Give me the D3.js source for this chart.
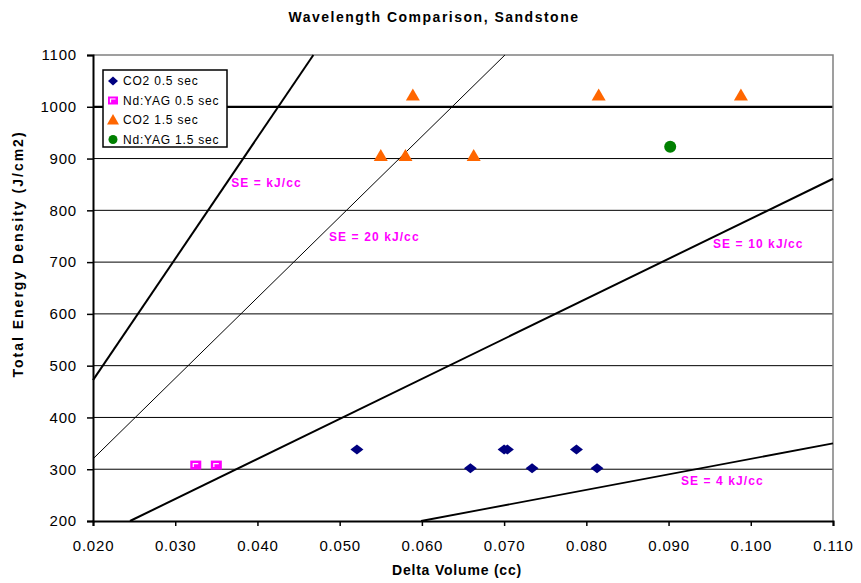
<!DOCTYPE html>
<html>
<head>
<meta charset="utf-8">
<script src="https://cdn.jsdelivr.net/npm/d3@7"></script>
<style>
  body { margin: 0; background: #fff; }
  text { font-family: Arial, "Liberation Sans", sans-serif; }
</style>
</head>
<body>
<svg id="chart" width="861" height="583"></svg>
<script>
// data
var co2_05 = [[0.0521, 338], [0.0700, 338], [0.0704, 338], [0.0788, 338],
              [0.0659, 302], [0.0734, 302], [0.0813, 302]];
var ndyag_05 = [[0.0325, 308], [0.0350, 308]];
var co2_15 = [[0.0589, 1022], [0.0815, 1022], [0.0988, 1022],
              [0.0550, 905], [0.0580, 905], [0.0663, 905]];
var ndyag_15 = [[0.0902, 923]];

// SE reference lines (endpoints)
var seLines = [
    {pts: [[0.020, 472], [0.0468, 1100]], w: 2},
    {pts: [[0.020, 320], [0.0701, 1100]], w: 1},
    {pts: [[0.0245, 200], [0.110, 861]], w: 2},
    {pts: [[0.0599, 200], [0.110, 350]], w: 1.8}
];
var seLabels = [
    {text: "SE = kJ/cc", x: 0.0368, y: 845},
    {text: "SE = 20 kJ/cc", x: 0.0487, y: 741},
    {text: "SE = 10 kJ/cc", x: 0.0954, y: 727},
    {text: "SE = 4 kJ/cc", x: 0.0915, y: 270}
];

var xTicks = [0.02, 0.03, 0.04, 0.05, 0.06, 0.07, 0.08, 0.09, 0.10, 0.11];
var yTicks = [200, 300, 400, 500, 600, 700, 800, 900, 1000, 1100];

var margin = {left: 93, right: 28, top: 55, bottom: 62};
var svg = d3.select("#chart");
var W = 861, H = 583;

var x = d3.scaleLinear().domain([0.02, 0.11]).range([margin.left, W - margin.right]);
var y = d3.scaleLinear().domain([200, 1100]).range([H - margin.bottom, margin.top]);

// title
svg.append("text")
    .attr("x", 434).attr("y", 22)
    .attr("text-anchor", "middle")
    .style("font-size", "14px").style("font-weight", "bold")
    .style("letter-spacing", "1.5px")
    .text("Wavelength Comparison, Sandstone");

// gridlines
svg.append("g").selectAll("line")
    .data(yTicks.filter(function (d) { return d > 200 && d < 1100; }))
    .enter().append("line")
    .attr("x1", x(0.02)).attr("x2", x(0.11))
    .attr("y1", function (d) { return y(d); })
    .attr("y2", function (d) { return y(d); })
    .attr("stroke", "#000")
    .attr("stroke-width", function (d) { return d === 1000 ? 2.2 : 1; });

// grey frame top/right
svg.append("path")
    .attr("d", "M" + x(0.02) + "," + y(1100) + "H" + x(0.11) + "V" + y(200))
    .attr("fill", "none").attr("stroke", "#808080").attr("stroke-width", 1.5);

// SE lines
var lineGen = d3.line().x(function (d) { return x(d[0]); }).y(function (d) { return y(d[1]); });
svg.append("g").selectAll("path")
    .data(seLines).enter().append("path")
    .attr("d", function (d) { return lineGen(d.pts); })
    .attr("fill", "none").attr("stroke", "#000")
    .attr("stroke-width", function (d) { return d.w; });

// axes
var yAxis = svg.append("g")
    .attr("transform", "translate(" + x(0.02) + ",0)")
    .call(d3.axisLeft(y).tickValues(yTicks).tickSize(6).tickPadding(10).tickFormat(d3.format("d")));
var xAxis = svg.append("g")
    .attr("transform", "translate(0," + y(200) + ")")
    .call(d3.axisBottom(x).tickValues(xTicks).tickSize(5).tickPadding(14).tickFormat(d3.format(".3f")));
[yAxis, xAxis].forEach(function (a) {
    a.select(".domain").attr("stroke", "#000").attr("stroke-width", 2);
    a.selectAll(".tick line").attr("stroke", "#000").attr("stroke-width", 1.5);
    a.selectAll(".tick text").style("font-size", "15px").attr("fill", "#000")
        .style("letter-spacing", "0.8px")
        .style("font-family", "Arial, 'Liberation Sans', sans-serif");
});

// axis titles
svg.append("text")
    .attr("transform", "translate(23,254) rotate(-90)")
    .attr("text-anchor", "middle")
    .style("font-size", "14px").style("font-weight", "bold")
    .style("letter-spacing", "2px")
    .text("Total Energy Density (J/cm2)");
svg.append("text")
    .attr("x", 457).attr("y", 575)
    .attr("text-anchor", "middle")
    .style("font-size", "14px").style("font-weight", "bold")
    .style("letter-spacing", "0.8px")
    .text("Delta Volume (cc)");

// SE labels
svg.append("g").selectAll("text")
    .data(seLabels).enter().append("text")
    .attr("x", function (d) { return x(d.x); })
    .attr("y", function (d) { return y(d.y); })
    .attr("fill", "#ff00ff")
    .style("font-size", "12px").style("font-weight", "bold")
    .style("letter-spacing", "1.1px")
    .text(function (d) { return d.text; });

// markers
var diamond = "M0,-5L6.5,0L0,5L-6.5,0Z";
var triangle = "M0,-7L7,5L-7,5Z";

function drawDiamond(g, cx, cy) {
    g.append("path").attr("d", diamond)
        .attr("transform", "translate(" + cx + "," + cy + ")")
        .attr("fill", "#000080");
}
function drawSquare(g, cx, cy) {
    g.append("rect").attr("x", cx - 5.5).attr("y", cy - 4.5)
        .attr("width", 11).attr("height", 9).attr("fill", "#ff00ff");
    g.append("path")
        .attr("d", "M" + (cx - 2.5) + "," + (cy + 2) + "V" + (cy - 1.5) + "H" + (cx + 2.5))
        .attr("fill", "none").attr("stroke", "#fff").attr("stroke-width", 1.2);
}
function drawTriangle(g, cx, cy) {
    g.append("path").attr("d", triangle)
        .attr("transform", "translate(" + cx + "," + cy + ")")
        .attr("fill", "#ff6600");
}
function drawCircle(g, cx, cy) {
    g.append("circle").attr("cx", cx).attr("cy", cy).attr("r", 6).attr("fill", "#008000");
}

var gm = svg.append("g");
co2_05.forEach(function (d) { drawDiamond(gm, x(d[0]), y(d[1])); });
ndyag_05.forEach(function (d) { drawSquare(gm, x(d[0]), y(d[1])); });
co2_15.forEach(function (d) { drawTriangle(gm, x(d[0]), y(d[1])); });
ndyag_15.forEach(function (d) { drawCircle(gm, x(d[0]), y(d[1])); });

// legend
var legendLabels = ["CO2 0.5 sec", "Nd:YAG 0.5 sec", "CO2 1.5 sec", "Nd:YAG 1.5 sec"];
var lg = svg.append("g").attr("transform", "translate(103,70)");
lg.append("rect").attr("width", 124).attr("height", 77)
    .attr("fill", "#fff").attr("stroke", "#000").attr("stroke-width", 1.5);
legendLabels.forEach(function (label, i) {
    var cy = 11 + i * 19.5;
    var mx = 10;
    if (i === 0) {
        lg.append("path").attr("d", "M0,-4.5L5,0L0,4.5L-5,0Z")
            .attr("transform", "translate(" + mx + "," + cy + ")").attr("fill", "#000080");
    } else if (i === 1) {
        lg.append("rect").attr("x", mx - 5).attr("y", cy - 4).attr("width", 10).attr("height", 8).attr("fill", "#ff00ff");
        lg.append("path").attr("d", "M" + (mx - 2.5) + "," + (cy + 2) + "V" + (cy - 1.5) + "H" + (mx + 2.5))
            .attr("fill", "none").attr("stroke", "#fff").attr("stroke-width", 1.2);
    } else if (i === 2) {
        lg.append("path").attr("d", "M0,-6L6,4.5L-6,4.5Z")
            .attr("transform", "translate(" + mx + "," + cy + ")").attr("fill", "#ff6600");
    } else {
        lg.append("circle").attr("cx", mx).attr("cy", cy).attr("r", 4.5).attr("fill", "#008000");
    }
    lg.append("text").attr("x", 20).attr("y", cy + 4)
        .style("font-size", "12px").style("letter-spacing", "0.8px").text(label);
});
</script>
</body>
</html>
